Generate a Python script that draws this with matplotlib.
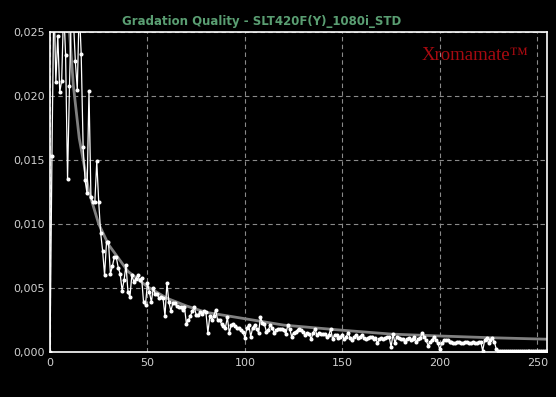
import numpy as np
import matplotlib.pyplot as plt
from matplotlib.ticker import FuncFormatter

# measured gradation error per input level (values in 1/1000)
dq_milli = [
    0.0, 15.3, 28.0, 21.1, 24.7, 20.3, 21.2, 27.0, 23.2, 13.5,
    20.8, 27.0, 26.0, 22.7, 20.5, 27.0, 23.3, 16.0, 13.4, 12.4,
    20.4, 12.1, 11.7, 11.7, 14.9, 11.7, 9.3, 7.9, 6.0, 8.6,
    8.6, 6.1, 6.7, 7.4, 7.4, 6.6, 6.1, 4.8, 5.6, 6.8,
    4.7, 4.3, 6.0, 5.5, 5.7, 6.0, 5.6, 5.8, 3.9, 3.7,
    5.4, 4.7, 3.9, 5.0, 4.5, 4.5, 4.2, 4.3, 4.2, 2.8,
    5.4, 3.9, 3.2, 3.8, 3.8, 3.6, 3.5, 3.5, 3.3, 3.5,
    2.2, 2.5, 2.8, 3.2, 3.5, 2.9, 2.9, 3.1, 3.0, 3.2,
    3.1, 1.5, 2.8, 2.5, 2.8, 3.3, 2.5, 2.5, 2.2, 2.0,
    1.9, 2.7, 1.5, 2.1, 2.2, 2.0, 1.9, 1.9, 1.7, 1.6,
    1.1, 1.9, 2.1, 1.2, 1.9, 2.1, 1.8, 1.5, 2.7, 2.3,
    2.2, 1.6, 1.7, 2.1, 1.9, 1.5, 1.7, 1.8, 1.8, 1.8,
    1.7, 1.4, 2.1, 1.8, 1.2, 1.5, 1.6, 1.7, 1.8, 1.7,
    1.6, 1.3, 1.5, 1.4, 1.0, 1.5, 1.8, 1.3, 1.5, 1.4,
    1.4, 1.4, 1.2, 1.3, 1.8, 1.0, 1.3, 1.3, 1.1, 1.2,
    1.3, 1.0, 1.2, 1.5, 1.1, 0.9, 1.2, 1.3, 1.1, 1.2,
    1.3, 1.1, 1.0, 1.1, 1.2, 1.2, 1.0, 1.1, 0.7, 1.0,
    1.1, 1.0, 1.1, 1.2, 1.2, 0.4, 1.4, 0.7, 1.2, 1.1,
    1.0, 1.0, 0.8, 1.0, 1.1, 0.9, 1.0, 1.2, 0.8, 1.0,
    1.1, 1.5, 1.2, 0.9, 0.5, 0.8, 0.9, 1.2, 0.9, 0.7,
    0.2, 0.7, 0.9, 0.9, 0.9, 0.8, 0.8, 0.7, 0.7, 0.8,
    0.8, 0.7, 0.7, 0.8, 0.8, 0.7, 0.7, 0.8, 0.7, 0.7,
    0.8, 0.8, 0.1, 0.9, 1.1, 0.7, 0.9, 1.1, 0.8, 0.2,
    0.10, 0.08, 0.09, 0.10, 0.08, 0.09, 0.11, 0.08, 0.09, 0.10,
    0.08, 0.09, 0.10, 0.09, 0.08, 0.10, 0.09, 0.08, 0.10, 0.09,
    0.08, 0.09, 0.10, 0.08, 0.09, 0.10,
]
levels = np.arange(len(dq_milli))
dq = np.array(dq_milli) / 1000.0

# smooth reference curve
ref_x = [10, 12, 15, 20, 25, 30, 40, 50, 60, 70, 80, 100, 120, 150, 175, 200, 225, 255]
ref_y = [0.0250, 0.0208, 0.0167, 0.0125, 0.0100, 0.0084, 0.0063, 0.0051, 0.0042,
         0.0036, 0.0031, 0.0026, 0.0021, 0.0017, 0.0014, 0.00125, 0.00112, 0.00100]

title = 'Gradation Quality - SLT420F(Y)_1080i_STD'

fig = plt.figure(figsize=(5.56, 3.97), dpi=100, facecolor='black')
ax = fig.add_axes([50/556, 45/397, 497/556, 320/397], facecolor='black')

ax.plot(ref_x, ref_y, color='#808080', lw=2, zorder=2)
ax.plot(levels, dq, color='white', lw=0.9, marker='o', ms=1.9, mec='white', mfc='white', zorder=3)

ax.set_xlim(0, 255)
ax.set_ylim(0, 0.025)
ax.set_xticks([0, 50, 100, 150, 200, 250])
ax.set_yticks([0, 0.005, 0.010, 0.015, 0.020, 0.025])
ax.yaxis.set_major_formatter(FuncFormatter(lambda v, p: ('%.3f' % v).replace('.', ',')))
ax.tick_params(colors='#d0d0d0', length=0, labelsize=8, pad=4)
ax.grid(True, color='#8a8a8a', ls=(0, (4, 3)), lw=0.8)
for s in ax.spines.values():
    s.set_color('white')
    s.set_linewidth(1.2)

fig.text(262/556, 1 - 21/397, title, color='#5a9e72', fontsize=8.5, fontweight='bold',
         ha='center', va='center')
ax.text(0.963, 0.925, 'Xromamate\u2122', transform=ax.transAxes, color='#a80a10',
        fontsize=13.5, family='Liberation Serif', ha='right', va='center', zorder=4)

fig.savefig('out.png', dpi=100, facecolor='black')
